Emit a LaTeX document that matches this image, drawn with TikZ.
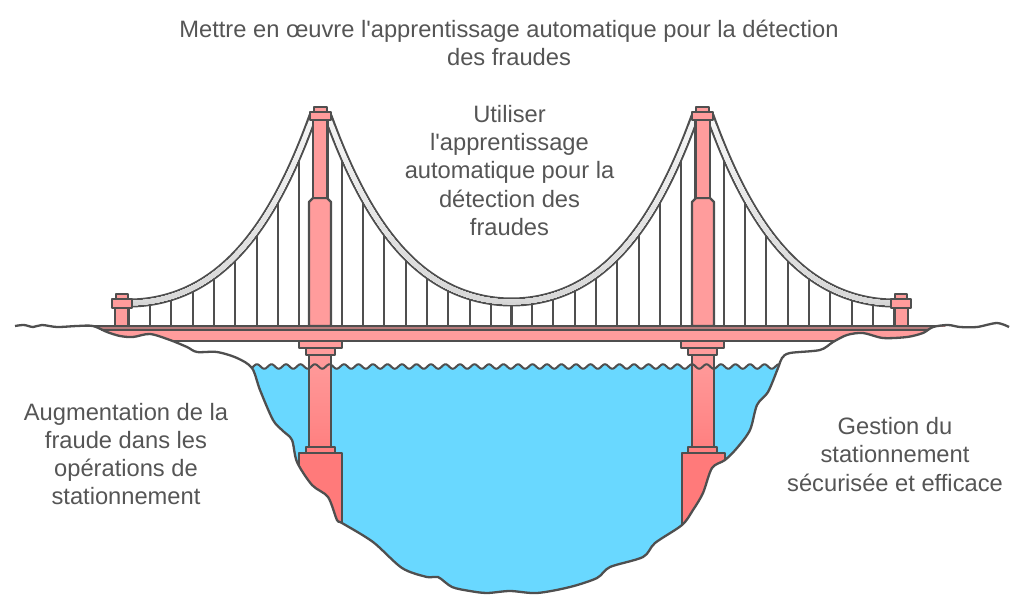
\documentclass[tikz,border=0pt]{standalone}
\usepackage{fontspec}
\newfontfamily\lbl{Liberation Sans}
\definecolor{ink}{HTML}{4F4F4F}
\definecolor{txt}{HTML}{555555}
\definecolor{pinkA}{HTML}{FF9C9C}
\definecolor{pinkB}{HTML}{FF8080}
\definecolor{pinkC}{HTML}{FF7A7A}
\definecolor{stripe}{HTML}{B87C7C}
\definecolor{water}{HTML}{69D8FF}
\tikzset{
  part/.style={draw=ink,line width=2.3pt,line join=round},
  upper/.style={part,fill=pinkA},
  lowerpart/.style={part,top color=pinkA,bottom color=pinkB},
  hanger/.style={draw=ink,line width=2.2pt},
  lbltext/.style={font=\lbl\fontsize{23.7}{28.3}\selectfont,text=txt,align=center,inner sep=0pt}
}
\newcommand\ground{plot[smooth,tension=.5] coordinates {(15,326)(24,325)(33,327)(42,325)(57,327)(77,326)(93,326)(107,332)(120,336)(133,337)(150,334)(170,340)(187,347)(197,352)(217,352)(237,358)(252,368)(260,390)(273,420)(283,431)(292,440)(297,462)(312,485)(328,497)(337,520)(342,523)(373,542)(402,568)(427,577)(438,577)(452,587)(470,591)(487,593)(510,591)(537,593)(570,587)(597,578)(610,567)(643,557)(655,543)(682,525)(693,510)(703,493)(712,468)(725,460)(737,448)(750,430)(757,405)(768,392)(778,368)(782,358)(790,353)(820,350)(833,342)(847,335)(863,333)(883,338)(907,337)(923,333)(933,327)(948,325)(960,327)(977,327)(997,323)(1009,327)}}
\newcommand\wave{plot[domain=251:779,samples=320] (\x,{366.5-2.3*cos(24.8276*(\x-257))})}
\newcommand\cableSide{plot[domain=129:313,samples=70] (\x,{303-35*((\x-129)/100)^2-6*((\x-129)/100)^4})}
\newcommand\cableMid{plot[domain=328:695,samples=130] (\x,{302-35*((\x-511.5)/100)^2-6*((\x-511.5)/100)^4})}
\newcommand\cableband[1]{%
  \draw[line width=9pt,color=ink] #1;
  \foreach \i in {0,...,12}{%
    \pgfmathsetmacro\yy{110+16*\i}\pgfmathsetmacro\cc{4+\i}%
    \begin{scope}
      \clip (0,\yy) rectangle (1024,330);
      \draw[line width=4.6pt,color=black!\cc] #1;
    \end{scope}}}
\newcommand\hangers{%
  \foreach \hx/\hy in {150/301,171/297,193/288,214/275,235/256,257/230,278/196,299/152,342/152,363/196,384/229,406/255,427/275,448/289,470/297,491/301,512/302}
    \draw[hanger] (\hx,326) -- (\hx,\hy);}
\newcommand\towers{%
  % end tower
  \draw[upper] (115,326) rectangle (128.5,308);
  \draw[upper] (116,299) rectangle (128,294);
  \draw[upper] (112,308) rectangle (132,299);
  % main tower, above the deck
  \draw[upper] (309,326) -- (309,202) -- (313,198) -- (327,198) -- (331,202) -- (331,326) -- cycle;
  \draw[upper] (313,198) rectangle (327.5,120);
  \draw[upper] (314,112) rectangle (327,107);
  \draw[upper] (310,120) rectangle (331,112);
  % main tower, below the deck
  \draw[lowerpart] (309,355) rectangle (331,447);
  \draw[upper] (299,341) rectangle (342,348);
  \draw[upper] (306,348) rectangle (335,355);
  \draw[part,fill=pinkB] (306,447) rectangle (335,453);}
\begin{document}
\begin{tikzpicture}[x=1pt,y=-1pt]
\useasboundingbox (0,0) rectangle (1024,609);
% water
\begin{scope}
  \clip \wave -- (779,600) -- (251,600) -- cycle;
  \fill[water] \ground -- cycle;
\end{scope}
% hangers and cables
\hangers
\begin{scope}[xshift=1023pt,xscale=-1]\hangers\end{scope}
\cableband{\cableSide}
\begin{scope}[xshift=1023pt,xscale=-1]\cableband{\cableSide}\end{scope}
\cableband{\cableMid}
% towers
\towers
\begin{scope}[xshift=1023pt,xscale=-1]\towers\end{scope}
% foundations
\begin{scope}
  \clip (299,453) rectangle (342,535);
  \fill[pinkC] \ground -- cycle;
\end{scope}
\begin{scope}
  \clip (682,453) rectangle (725,535);
  \fill[pinkC] \ground -- cycle;
\end{scope}
\draw[part] (299,466) -- (299,453) -- (342,453) -- (342,523);
\draw[part] (682,525) -- (682,453) -- (725,453) -- (725,460);
% wave line
\draw[part,line width=2pt] \wave;
% deck
\begin{scope}
  \clip (80,326) rectangle (945,341);
  \fill[pinkA] \ground -- cycle;
\end{scope}
\begin{scope}
  \clip (80,326) rectangle (945,330);
  \fill[stripe] \ground -- cycle;
\end{scope}
\draw[part,line width=2pt] (93,326) -- (937,326);
\draw[part,line width=2pt] (101,330) -- (927,330);
\draw[part,line width=2pt] (172,341) -- (834,341);
% terrain
\draw[part] \ground;
% labels
\node[lbltext] (title) at (509,43) {Mettre en œuvre l'apprentissage automatique pour la détection\\des fraudes};
\node[lbltext] (centre) at (509.5,170.5) {Utiliser\\l'apprentissage\\automatique pour la\\détection des\\fraudes};
\node[lbltext] (gauche) at (126,454) {Augmentation de la\\fraude dans les\\opérations de\\stationnement};
\node[lbltext] (droite) at (895,454.5) {Gestion du\\stationnement\\sécurisée et efficace};
\end{tikzpicture}
\end{document}
